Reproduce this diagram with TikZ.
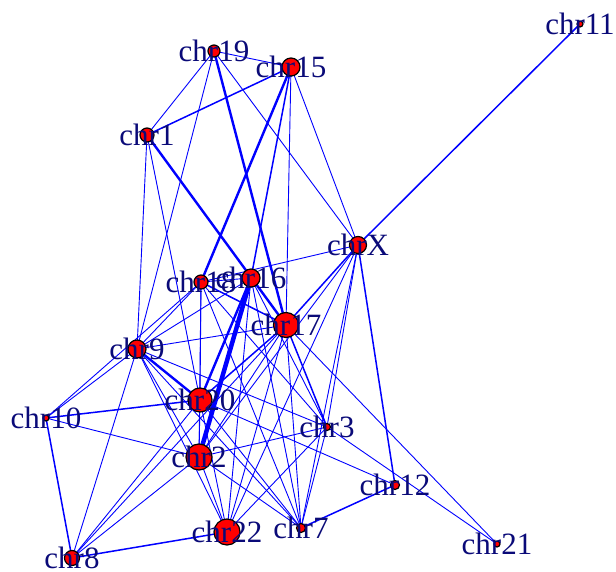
\documentclass[tikz,border=0pt]{standalone}
\usepackage{fontspec}
\setmainfont{Liberation Serif}
\begin{document}
\begin{tikzpicture}[x=1pt,y=-1pt,
  vtx/.style={circle,fill=red,draw=black,line width=1.2pt,inner sep=0pt},
  lbl/.style={inner sep=0pt,anchor=center,text=lblc,font=\fontsize{31}{31}\selectfont},
  e/.style={draw=edgec,line width=0.9pt},
  em/.style={draw=edgec,line width=1.5pt},
  et/.style={draw=edgec,line width=2.4pt},
  ev/.style={draw=edgec,line width=4.5pt}]
\definecolor{lblc}{RGB}{10,10,120}
\definecolor{edgec}{RGB}{0,0,255}
\useasboundingbox (0,0) rectangle (616,572);
% coordinates
\coordinate (c19) at (214,51);
\coordinate (c15) at (291,67);
\coordinate (c1) at (147,135);
\coordinate (c11) at (580,24);
\coordinate (cX) at (358,245);
\coordinate (c18) at (201,282);
\coordinate (c16) at (251,278);
\coordinate (c17) at (286,325);
\coordinate (c9) at (137,349);
\coordinate (c20) at (200,400);
\coordinate (c10) at (46,418);
\coordinate (c3) at (327,427);
\coordinate (c2) at (199,457);
\coordinate (c12) at (395,485);
\coordinate (c22) at (227,532);
\coordinate (c7) at (301,528);
\coordinate (c8) at (72,558);
\coordinate (c21) at (497,544);
% edges
\draw[em] (cX) -- (c11);
\draw[e] (c19) -- (c15);
\draw[e] (c19) -- (c1);
\draw[e] (c19) -- (c9);
\draw[et] (c19) -- (c17);
\draw[e] (c19) -- (cX);
\draw[em] (c15) -- (c1);
\draw[et] (c15) -- (c18);
\draw[em] (c15) -- (c16);
\draw[e] (c15) -- (c17);
\draw[e] (c15) -- (cX);
\draw[e] (c1) -- (c9);
\draw[e] (c1) -- (c20);
\draw[et] (c1) -- (c17);
\draw[e] (cX) -- (c18);
\draw[em] (cX) -- (c17);
\draw[e] (cX) -- (c2);
\draw[e] (cX) -- (c22);
\draw[e] (cX) -- (c3);
\draw[e] (cX) -- (c7);
\draw[em] (cX) -- (c12);
\draw[e] (c18) -- (c9);
\draw[e] (c18) -- (c16);
\draw[em] (c18) -- (c17);
\draw[e] (c18) -- (c20);
\draw[e] (c18) -- (c2);
\draw[e] (c18) -- (c3);
\draw[e] (c18) -- (c7);
\draw[e] (c18) -- (c10);
\draw[ev] (c16) -- (c2);
\draw[et] (c16) -- (c20);
\draw[e] (c16) -- (c17);
\draw[e] (c16) -- (c9);
\draw[e] (c16) -- (c22);
\draw[e] (c16) -- (c7);
\draw[e] (c16) -- (c3);
\draw[e] (c17) -- (c9);
\draw[em] (c17) -- (c20);
\draw[e] (c17) -- (c2);
\draw[e] (c17) -- (c22);
\draw[e] (c17) -- (c7);
\draw[em] (c17) -- (c3);
\draw[e] (c17) -- (c21);
\draw[e] (c17) -- (c8);
\draw[et] (c9) -- (c20);
\draw[e] (c9) -- (c2);
\draw[e] (c9) -- (c22);
\draw[e] (c9) -- (c7);
\draw[e] (c9) -- (c3);
\draw[e] (c9) -- (c8);
\draw[e] (c9) -- (c10);
\draw[e] (c20) -- (c2);
\draw[e] (c20) -- (c22);
\draw[e] (c20) -- (c7);
\draw[e] (c20) -- (c12);
\draw[em] (c20) -- (c10);
\draw[e] (c20) -- (c8);
\draw[e] (c2) -- (c22);
\draw[e] (c2) -- (c7);
\draw[e] (c2) -- (c3);
\draw[e] (c2) -- (c10);
\draw[e] (c2) -- (c8);
\draw[em] (c22) -- (c8);
\draw[e] (c22) -- (c3);
\draw[e] (c7) -- (c3);
\draw[em] (c7) -- (c12);
\draw[e] (c3) -- (c21);
\draw[em] (c10) -- (c8);
% vertices
\node[vtx,minimum size=12pt] (n19) at (c19) {};
\node[vtx,minimum size=18pt] (n15) at (c15) {};
\node[vtx,minimum size=14pt] (n1) at (c1) {};
\node[vtx,minimum size=6pt] (n11) at (c11) {};
\node[vtx,minimum size=17pt] (nX) at (cX) {};
\node[vtx,minimum size=14pt] (n18) at (c18) {};
\node[vtx,minimum size=18pt] (n16) at (c16) {};
\node[vtx,minimum size=25pt] (n17) at (c17) {};
\node[vtx,minimum size=18pt] (n9) at (c9) {};
\node[vtx,minimum size=24pt] (n20) at (c20) {};
\node[vtx,minimum size=6pt] (n10) at (c10) {};
\node[vtx,minimum size=7pt] (n3) at (c3) {};
\node[vtx,minimum size=26pt] (n2) at (c2) {};
\node[vtx,minimum size=9pt] (n12) at (c12) {};
\node[vtx,minimum size=26pt] (n22) at (c22) {};
\node[vtx,minimum size=9pt] (n7) at (c7) {};
\node[vtx,minimum size=15pt] (n8) at (c8) {};
\node[vtx,minimum size=6pt] (n21) at (c21) {};
% labels
\node[lbl] (l19) at (c19) {chr19};
\node[lbl] (l15) at (c15) {chr15};
\node[lbl] (l1) at (c1) {chr1};
\node[lbl] (l11) at (c11) {chr11};
\node[lbl] (lX) at (cX) {chrX};
\node[lbl] (l18) at (c18) {chr18};
\node[lbl] (l16) at (c16) {chr16};
\node[lbl] (l17) at (c17) {chr17};
\node[lbl] (l9) at (c9) {chr9};
\node[lbl] (l20) at (c20) {chr20};
\node[lbl] (l10) at (c10) {chr10};
\node[lbl] (l3) at (c3) {chr3};
\node[lbl] (l2) at (c2) {chr2};
\node[lbl] (l12) at (c12) {chr12};
\node[lbl] (l22) at (c22) {chr22};
\node[lbl] (l7) at (c7) {chr7};
\node[lbl] (l8) at (c8) {chr8};
\node[lbl] (l21) at (c21) {chr21};
\end{tikzpicture}
\end{document}
